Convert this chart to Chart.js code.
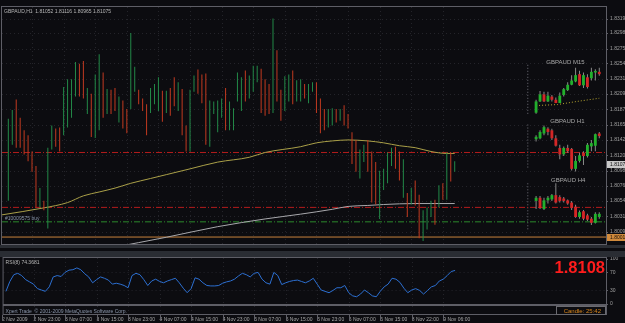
<!DOCTYPE html>
<html>
<head>
<meta charset="utf-8">
<script src="https://cdn.jsdelivr.net/npm/chart.js@4.4.0/dist/chart.umd.min.js"></script>
<style>
  html, body { margin: 0; padding: 0; background: #0c0c10; width: 625px; height: 323px; overflow: hidden; }
  #caixaPreco { position: absolute; left: 0; top: 0; }
  #caixaRsi { position: absolute; left: 0; top: 251px; }
</style>
</head>
<body>
<canvas id="caixaPreco" width="625" height="251"></canvas>
<canvas id="caixaRsi" width="625" height="72"></canvas>
<script>
const tickLabels = ['2 Nov 2009', '2 Nov 23:00', '3 Nov 07:00', '3 Nov 15:00', '3 Nov 23:00', '4 Nov 07:00', '4 Nov 15:00',
  '4 Nov 23:00', '5 Nov 07:00', '5 Nov 15:00', '5 Nov 23:00', '6 Nov 07:00', '6 Nov 15:00', '8 Nov 22:00', '9 Nov 06:00'];
const tickBars = [-1, 7, 15, 23, 31, 39, 47, 55, 63, 71, 79, 87, 95, 103, 111];
const priceTicks = [1.83190, 1.82980, 1.82750, 1.82540, 1.82310, 1.82095, 1.81870, 1.81650, 1.81425, 1.81205,
  1.80980, 1.80760, 1.80545, 1.80315, 1.80090];
const rsiTicks = [100, 70, 30, 0];

// barras H1 (maxima, minima, 1 = alta / 0 = baixa)
const barHigh = [null,
  1.81734, 1.81860, 1.82014, 1.81748, 1.81566, 1.81496, 1.81258, 1.81048, 1.80726, 1.80544,
  1.81314, 1.81636, 1.81594, 1.81608, 1.82196, 1.82308, 1.82308, 1.82560, 1.82532, 1.82574,
  1.82182, 1.82098, 1.82378, 1.82672, 1.82406, 1.82168, 1.82154, 1.82182, 1.82056, 1.82000,
  1.81874, 1.82980, 1.82490, 1.82154, 1.82028, 1.81944, 1.82182, 1.82238, 1.82336, 1.82140,
  1.82140, 1.82182, 1.82336, 1.82266, 1.82168, 1.81636, 1.82154, 1.82364, 1.82448, 1.82378,
  1.82392, 1.82000, 1.81986, 1.82000, 1.82028, 1.82182, 1.81986, 1.81888, 1.82406, 1.82336,
  1.82434, 1.82364, 1.82504, 1.82504, 1.82462, 1.82308, 1.82238, 1.83190, 1.82728, 1.82154,
  1.82350, 1.82378, 1.82434, 1.82294, 1.82308, 1.82238, 1.82238, 1.82266, 1.82266, 1.82028,
  1.81874, 1.81874, 1.81888, 1.81874, 1.81874, 1.81930, 1.81804, 1.81538, 1.81426, 1.81286,
  1.81356, 1.81426, 1.81258, 1.81104, 1.80978, 1.81006, 1.81244, 1.81314, 1.81328, 1.81258,
  1.81146, 1.80656, 1.80726, 1.80838, 1.80628, 1.80404, 1.80446, 1.80544, 1.80558, 1.80768,
  1.80796, 1.81244, 1.81244, 1.81116];
const barLow = [null,
  1.80544, 1.81356, 1.81314, 1.81314, 1.81216, 1.81118, 1.80964, 1.80446, 1.80446, 1.80404,
  1.80138, 1.81286, 1.81328, 1.81258, 1.81496, 1.81608, 1.81748, 1.82056, 1.82056, 1.82028,
  1.81804, 1.81468, 1.81454, 1.81566, 1.81748, 1.81804, 1.81804, 1.81846, 1.81678, 1.81594,
  1.81524, 1.81874, 1.82126, 1.81944, 1.81846, 1.81496, 1.81818, 1.81944, 1.81846, 1.81692,
  1.81818, 1.81776, 1.81916, 1.81846, 1.81496, 1.81258, 1.81258, 1.82126, 1.82098, 1.81958,
  1.81356, 1.81328, 1.81804, 1.81538, 1.81748, 1.81566, 1.81566, 1.81566, 1.81986, 1.81846,
  1.81986, 1.82028, 1.82126, 1.82266, 1.81818, 1.81776, 1.81804, 1.81818, 1.81986, 1.81706,
  1.81846, 1.81986, 1.81944, 1.81986, 1.81986, 1.82028, 1.81958, 1.82126, 1.81818, 1.81524,
  1.81566, 1.81608, 1.81636, 1.81678, 1.81706, 1.81636, 1.81594, 1.81076, 1.80964, 1.80866,
  1.81104, 1.80964, 1.80516, 1.80488, 1.80278, 1.80698, 1.80796, 1.81048, 1.81006, 1.80838,
  1.80586, 1.80306, 1.80488, 1.80474, 1.79998, 1.79956, 1.80124, 1.80306, 1.80194, 1.80446,
  1.80558, 1.80558, 1.80824, 1.80965];
const barUp = [1,
  1, 1, 0, 0, 0, 0, 0, 0, 1, 0,
  1, 1, 0, 0, 1, 1, 1, 1, 0, 0,
  1, 0, 1, 1, 0, 1, 0, 0, 1, 0,
  0, 1, 1, 0, 0, 0, 1, 1, 1, 0,
  1, 0, 0, 1, 0, 0, 1, 1, 0, 0,
  0, 1, 1, 1, 1, 0, 1, 1, 1, 1,
  0, 1, 1, 1, 0, 0, 0, 1, 0, 0,
  1, 1, 0, 1, 1, 0, 1, 1, 0, 0,
  0, 1, 1, 0, 1, 0, 0, 0, 0, 1,
  1, 0, 0, 0, 1, 1, 1, 1, 0, 0,
  1, 0, 1, 0, 0, 1, 1, 1, 0, 1,
  0, 1, 0, 1];

// medias moveis (amarela e branca)
const yellowMaBar = [-1, 10, 16, 20, 24, 28, 32, 37, 41, 47, 54, 62, 66, 75, 79, 83, 87, 92, 96, 100, 104, 108, 112, 114];
const yellowMa = [1.80334, 1.80439, 1.80516, 1.80614, 1.80670, 1.80726, 1.80796, 1.80866, 1.80922, 1.81006, 1.81104, 1.81174,
  1.81244, 1.81328, 1.81384, 1.81412, 1.81426, 1.81412, 1.81384, 1.81342, 1.81314, 1.81258, 1.81230, 1.81230];
const whiteMaBar = [27, 41, 54, 66, 75, 83, 87, 92, 96, 104, 114];
const whiteMa = [1.79858, 1.80012, 1.80166, 1.80278, 1.80348, 1.80418, 1.80460, 1.80474, 1.80488, 1.80502, 1.80502];

// linhas horizontais (SL / TP / ordem / nivel laranja)
const stopLevel = 1.80446, takeLevel = 1.81244, orderLevel = 1.80236, orangeLevel = 1.80015;
const bidPrice = 1.81075;

// mini graficos M15 / H1 / H4 (abertura, maxima, minima, fechamento)
const miniStart = 134.6;
const m15Open  = [1.81822, 1.81986, 1.82088, 1.81986, 1.82056, 1.82010, 1.81962, 1.82080, 1.82150, 1.82228, 1.82276, 1.82382, 1.82220, 1.82336, 1.82322, 1.82406, 1.82416];
const m15High  = [1.82010, 1.82136, 1.82126, 1.82126, 1.82080, 1.82042, 1.82116, 1.82182, 1.82266, 1.82368, 1.82476, 1.82430, 1.82406, 1.82382, 1.82476, 1.82452, 1.82476];
const m15Low   = [1.81808, 1.81976, 1.81976, 1.81976, 1.81986, 1.81962, 1.81962, 1.82056, 1.82136, 1.82220, 1.82266, 1.82210, 1.82182, 1.82172, 1.82290, 1.82290, 1.82360];
const m15Close = [1.81986, 1.82088, 1.81986, 1.82070, 1.82010, 1.81962, 1.82070, 1.82164, 1.82228, 1.82290, 1.82368, 1.82220, 1.82368, 1.82196, 1.82416, 1.82430, 1.82382];
const m15MaBar = [134.6, 140, 145, 150.6];
const m15Ma = [1.81926, 1.81940, 1.81986, 1.82032];

const h1Open  = [1.81436, 1.81450, 1.81520, 1.81590, 1.81566, 1.81450, 1.81310, 1.81216, 1.81310, 1.81296, 1.81006, 1.81122, 1.81240, 1.81192, 1.81332, 1.81342, 1.81520];
const h1High  = [1.81496, 1.81566, 1.81636, 1.81612, 1.81590, 1.81496, 1.81356, 1.81332, 1.81356, 1.81310, 1.81192, 1.81240, 1.81262, 1.81380, 1.81426, 1.81520, 1.81542];
const h1Low   = [1.81402, 1.81436, 1.81496, 1.81496, 1.81426, 1.81332, 1.81146, 1.81192, 1.81240, 1.80982, 1.80968, 1.81100, 1.81062, 1.81170, 1.81262, 1.81262, 1.81450];
const h1Close = [1.81472, 1.81542, 1.81612, 1.81542, 1.81450, 1.81342, 1.81216, 1.81310, 1.81262, 1.81006, 1.81122, 1.81202, 1.81192, 1.81356, 1.81380, 1.81510, 1.81482];

const h4Open  = [1.80540, 1.80586, 1.80422, 1.80548, 1.80562, 1.80624, 1.80596, 1.80576, 1.80548, 1.80516, 1.80456, 1.80306, 1.80390, 1.80330, 1.80282, 1.80222, 1.80306];
const h4High  = [1.80610, 1.80610, 1.80586, 1.80610, 1.80642, 1.80796, 1.80624, 1.80596, 1.80562, 1.80540, 1.80484, 1.80400, 1.80408, 1.80352, 1.80306, 1.80376, 1.80376];
const h4Low   = [1.80422, 1.80422, 1.80408, 1.80502, 1.80540, 1.80502, 1.80516, 1.80516, 1.80484, 1.80408, 1.80296, 1.80282, 1.80260, 1.80250, 1.80190, 1.80212, 1.80282];
const h4Close = [1.80586, 1.80436, 1.80548, 1.80586, 1.80624, 1.80516, 1.80540, 1.80540, 1.80502, 1.80436, 1.80306, 1.80376, 1.80282, 1.80268, 1.80222, 1.80352, 1.80352];

// separadores pontilhados dos mini graficos
const miniSepBar = 132.5;
const miniSepM15 = [1.82518, 1.81804];
const miniSepH1 = [1.81650, 1.81006];
const miniSepH4 = [1.80796, 1.80124];

// RSI(8)
const rsiVal = [28, 50, 65, 68, 63, 54, 49, 44, 34, 31,
  28, 38, 60, 63, 61, 70, 75, 76, 80, 76,
  67, 60, 47, 54, 60, 57, 53, 44, 46, 44,
  41, 36, 63, 68, 65, 54, 41, 51, 55, 50,
  47, 51, 54, 57, 47, 35, 25, 34, 58, 55,
  47, 41, 40, 40, 41, 46, 49, 51, 55, 62,
  68, 65, 60, 68, 70, 55, 47, 44, 70, 63,
  43, 47, 50, 52, 53, 50, 47, 51, 57, 44,
  31, 28, 25, 30, 36, 36, 41, 25, 18, 16,
  22, 31, 25, 18, 16, 28, 38, 44, 57, 55,
  48, 35, 25, 31, 34, 30, 22, 30, 38, 41,
  51, 55, 63, 72, 74.37];

// ---- cores e fontes ----
const verde = '#238a48', vermelho = '#c23a20';
const velaVerde = '#22b02c', velaVermelha = '#d42626', pavio = '#8a8a8a';
const fonte = 'Liberation Sans, Arial, sans-serif';
const xMin = -0.6, xMax = 152.3;

function pontos(xs, ys) {
  return xs.map((x, k) => ({ x: x, y: ys[k] }));
}

function eixoX(mostrar) {
  return {
    type: 'linear', min: xMin, max: xMax, offset: false, display: mostrar,
    grid: { display: false, drawTicks: false }, border: { display: false },
    afterBuildTicks: s => { s.ticks = tickBars.map(v => ({ value: v })); },
    afterFit: s => { s.height = mostrar ? 8 : 0; },
    ticks: { autoSkip: false, maxRotation: 0, align: 'start', padding: 2, color: '#a8a8a8',
      font: { size: 5, family: fonte }, callback: (v, i) => tickLabels[i] }
  };
}

function linhaH(preco, cor, tracos) {
  return { type: 'line', data: [{ x: xMin, y: preco }, { x: xMax, y: preco }], borderColor: cor,
    borderWidth: 1, borderDash: tracos, pointRadius: 0, order: 5 };
}

function linhaV(precos, cor) {
  return { type: 'line', data: [{ x: miniSepBar, y: precos[0] }, { x: miniSepBar, y: precos[1] }], borderColor: cor,
    borderWidth: 1, borderDash: [1, 2], pointRadius: 0, order: 5 };
}

// mini velas: pavio e corpo como barras flutuantes
function velas(abre, max, min, fecha) {
  const pav = [], corpo = [];
  for (let k = 0; k < abre.length; k++) {
    pav.push({ x: miniStart + k, y: [min[k], max[k]] });
    corpo.push({ x: miniStart + k, y: [abre[k], fecha[k]], up: fecha[k] >= abre[k] });
  }
  return [
    { type: 'bar', data: corpo, maxBarThickness: 3, grouped: false, order: 1,
      backgroundColor: c => c.raw && c.raw.up ? velaVerde : velaVermelha },
    { type: 'bar', data: pav, maxBarThickness: 1, grouped: false, order: 2, backgroundColor: pavio }
  ];
}

function linha(g, x1, y1, x2, y2) {
  g.beginPath(); g.moveTo(x1, y1); g.lineTo(x2, y2); g.stroke();
}

const fundo = {
  id: 'fundo',
  beforeDraw(c) {
    const g = c.ctx;
    g.save(); g.fillStyle = '#0c0c10'; g.fillRect(0, 0, c.width, c.height); g.restore();
  }
};

// grade pontilhada do MT4
function grade(horiz) {
  return {
    id: 'grade',
    beforeDatasetsDraw(c) {
      const g = c.ctx, a = c.chartArea, sx = c.scales.x, sy = c.scales.y;
      g.save(); g.strokeStyle = '#24242a'; g.lineWidth = 1; g.setLineDash([1, 3]);
      horiz.forEach(v => {
        const y = Math.round(sy.getPixelForValue(v)) + 0.5;
        if (y > a.top + 1 && y < a.bottom - 1) linha(g, a.left, y, a.right, y);
      });
      tickBars.forEach(b => {
        const x = Math.round(sx.getPixelForValue(b)) + 0.5;
        if (x > a.left + 1 && x < a.right) linha(g, x, a.top, x, a.bottom);
      });
      g.restore();
    }
  };
}

function caixaPreco(g, sy, a, preco, fundoCor, texto) {
  const y = Math.round(sy.getPixelForValue(preco));
  g.fillStyle = fundoCor; g.fillRect(a.right + 1, y - 3, 24, 7);
  g.fillStyle = texto; g.font = '5px ' + fonte; g.textBaseline = 'middle'; g.textAlign = 'left';
  g.fillText(preco.toFixed(5), a.right + 4, y + 0.5);
}

const molduraPreco = {
  id: 'molduraPreco',
  afterDraw(c) {
    const g = c.ctx, a = c.chartArea, sx = c.scales.x, sy = c.scales.y;
    g.save();
    g.strokeStyle = '#5e5e66'; g.lineWidth = 1; g.setLineDash([]);
    g.strokeRect(a.left - 0.5, a.top - 0.5, a.right - a.left + 1, a.bottom - a.top + 1);
    g.fillStyle = '#2a2d33'; g.fillRect(0, a.bottom + 1, c.width, 3);
    priceTicks.forEach(v => { const y = Math.round(sy.getPixelForValue(v)) + 0.5; linha(g, a.right, y, a.right + 2, y); });
    g.textBaseline = 'alphabetic'; g.textAlign = 'left';
    g.fillStyle = '#b8b8b8'; g.font = '5px ' + fonte;
    g.fillText('GBPAUD,H1  1.81052 1.81116 1.80965 1.81075', a.left + 2, a.top + 6);
    g.fillStyle = '#8a96aa';
    g.fillText('#10009575 buy', a.left + 3, Math.round(sy.getPixelForValue(orderLevel)) - 2);
    g.fillStyle = '#a8a8a8'; g.font = '6px ' + fonte;
    g.fillText('GBPAUD M15', sx.getPixelForValue(137.2), sy.getPixelForValue(1.82532));
    g.fillText('GBPAUD H1', sx.getPixelForValue(138.2), sy.getPixelForValue(1.81678));
    g.fillText('GBPAUD H4', sx.getPixelForValue(138.4), sy.getPixelForValue(1.80818));
    caixaPreco(g, sy, a, bidPrice, '#c8c8c8', '#101010');
    caixaPreco(g, sy, a, orangeLevel, '#d08a3c', '#1a1008');
    g.restore();
  }
};

const molduraRsi = {
  id: 'molduraRsi',
  afterDraw(c) {
    const g = c.ctx, a = c.chartArea, sx = c.scales.x, sy = c.scales.y;
    const y0 = Math.round(sy.getPixelForValue(0));
    g.save();
    g.fillStyle = '#2a2d33'; g.fillRect(0, 0, c.width, a.top - 1);
    g.strokeStyle = '#5e5e66'; g.lineWidth = 1;
    g.strokeRect(a.left - 0.5, a.top - 0.5, a.right - a.left + 1, y0 - a.top + 1);
    g.strokeRect(a.left - 0.5, y0 + 1.5, a.right - a.left + 1, a.bottom - y0 - 2);
    rsiTicks.forEach(v => { const y = Math.round(sy.getPixelForValue(v)) + 0.5; linha(g, a.right, y, a.right + 2, y); });
    tickBars.forEach(b => { const x = Math.round(sx.getPixelForValue(b)) + 0.5; linha(g, x, a.bottom, x, a.bottom + 6); });
    g.textBaseline = 'alphabetic'; g.textAlign = 'left';
    g.fillStyle = '#b8b8b8'; g.font = '5px ' + fonte;
    g.fillText('RSI(8) 74.3681', a.left + 2, a.top + 6);
    g.fillStyle = '#8a96aa';
    g.fillText('Xpert Trade  \u00a9 2001-2009 MetaQuotes Software Corp.', a.left + 2, a.bottom - 2);
    g.strokeStyle = '#6a6a70';
    g.strokeRect(556.5, y0 + 2.5, 49, a.bottom - y0 - 3);
    g.fillStyle = '#d8861c'; g.font = '6px ' + fonte; g.textAlign = 'right';
    g.fillText('Candle: 25:42', 601, a.bottom - 2);
    g.fillStyle = '#ff1c1c'; g.font = 'bold 16.5px ' + fonte;
    g.fillText('1.8108', 605, a.top + 15);
    g.restore();
  }
};

// ---- grafico de precos ----
function criarGraficoPreco() {
  const barras = [];
  for (let i = 0; i < barHigh.length; i++) {
    if (barHigh[i] == null) continue;
    barras.push({ x: i, y: [barLow[i], barHigh[i]], up: barUp[i] });
  }
  const ctx = document.getElementById('caixaPreco').getContext('2d');
  new Chart(ctx, {
    type: 'bar',
    data: {
      datasets: [
        { type: 'bar', data: barras, maxBarThickness: 1, grouped: false, order: 3,
          backgroundColor: c => c.raw && c.raw.up ? verde : vermelho },
        ...velas(m15Open, m15High, m15Low, m15Close),
        ...velas(h1Open, h1High, h1Low, h1Close),
        ...velas(h4Open, h4High, h4Low, h4Close),
        { type: 'line', data: pontos(m15MaBar, m15Ma), borderColor: '#b8a830', borderWidth: 1, borderDash: [1, 2],
          pointRadius: 0, order: 4 },
        { type: 'line', data: pontos(yellowMaBar, yellowMa), borderColor: '#aaa048', borderWidth: 1, pointRadius: 0,
          cubicInterpolationMode: 'monotone', order: 4 },
        { type: 'line', data: pontos(whiteMaBar, whiteMa), borderColor: '#a8a8ac', borderWidth: 1, pointRadius: 0,
          cubicInterpolationMode: 'monotone', order: 4 },
        linhaH(takeLevel, '#b41c1c', [6, 2, 1, 2]),
        linhaH(stopLevel, '#b41c1c', [6, 2, 1, 2]),
        linhaH(orderLevel, '#2c8a2c', [6, 2, 1, 2]),
        linhaH(orangeLevel, '#c8823c', []),
        linhaV(miniSepM15, '#70707a'),
        linhaV(miniSepH1, '#70707a'),
        linhaV(miniSepH4, '#70707a')
      ]
    },
    options: {
      responsive: false, animation: false, events: [],
      layout: { padding: { left: 2, top: 2, right: 0, bottom: 3 } },
      plugins: { legend: { display: false }, tooltip: { enabled: false } },
      scales: {
        x: eixoX(false),
        y: {
          type: 'linear', position: 'right', min: 1.79914, max: 1.83358,
          grid: { display: false, drawTicks: false }, border: { display: false },
          afterBuildTicks: s => { s.ticks = priceTicks.map(v => ({ value: v })); },
          afterFit: s => { s.width = 19; },
          ticks: { autoSkip: false, padding: 4, color: '#a0a0a0', font: { size: 5, family: fonte },
            callback: v => v.toFixed(5) }
        }
      }
    },
    plugins: [fundo, grade(priceTicks), molduraPreco]
  });
}

// ---- janela do RSI ----
function criarGraficoRsi() {
  const ctx = document.getElementById('caixaRsi').getContext('2d');
  new Chart(ctx, {
    type: 'line',
    data: {
      datasets: [
        { data: rsiVal.map((v, i) => ({ x: i, y: v })), borderColor: '#2c6fd1', borderWidth: 1, pointRadius: 0 }
      ]
    },
    options: {
      responsive: false, animation: false, events: [],
      layout: { padding: { left: 2, top: 2, right: 0, bottom: 0 } },
      plugins: { legend: { display: false }, tooltip: { enabled: false } },
      scales: {
        x: eixoX(true),
        y: {
          type: 'linear', position: 'right', min: -24.5, max: 102,
          grid: { display: false, drawTicks: false }, border: { display: false },
          afterBuildTicks: s => { s.ticks = rsiTicks.map(v => ({ value: v })); },
          afterFit: s => { s.width = 19; },
          ticks: { autoSkip: false, padding: 4, color: '#a0a0a0', font: { size: 5, family: fonte } }
        }
      }
    },
    plugins: [fundo, grade([70, 30]), molduraRsi]
  });
}

criarGraficoPreco();
criarGraficoRsi();
</script>
</body>
</html>
